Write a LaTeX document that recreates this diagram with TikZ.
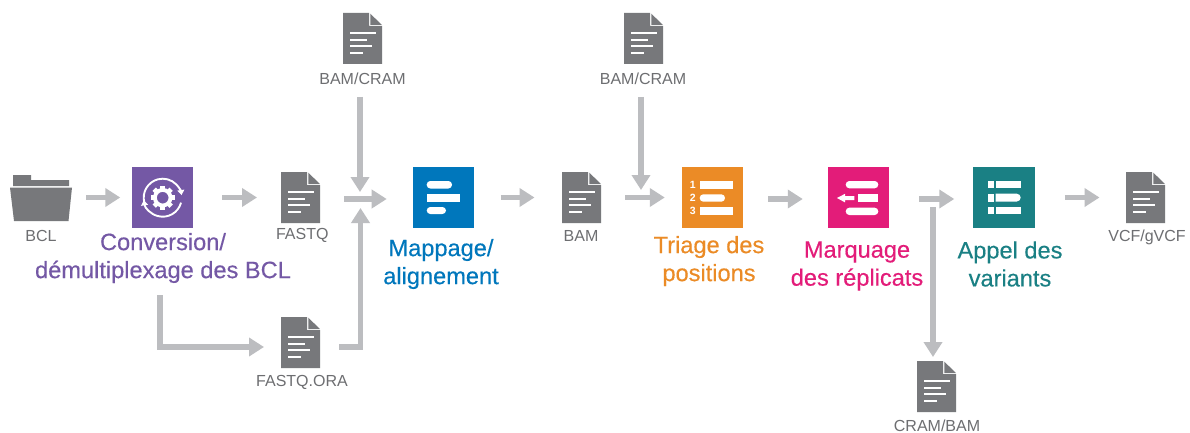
\documentclass[tikz,border=0pt]{standalone}
\usepackage{fontspec}
\setmainfont{Liberation Sans}
\newfontfamily\titlefont[FakeBold=0.35]{Liberation Sans}
\usetikzlibrary{arrows.meta}
\definecolor{docgray}{HTML}{77787B}
\definecolor{labelgray}{HTML}{6D6E71}
\definecolor{flowgray}{HTML}{BCBDC0}
\definecolor{cpurple}{HTML}{7458A5}
\definecolor{cblue}{HTML}{0077BC}
\definecolor{corange}{HTML}{EB8B26}
\definecolor{cpink}{HTML}{E31C79}
\definecolor{cteal}{HTML}{1A8084}
\tikzset{
  x=1pt,y=-1pt,
  flow/.style={draw=flowgray,line width=5.5pt,-{Triangle[length=15pt,width=18pt]}},
  square/.style={minimum size=61.5pt,inner sep=0pt,outer sep=0pt,draw=none},
  docbox/.style={minimum width=39pt,minimum height=51pt,inner sep=0pt,outer sep=0pt},
  filelabel/.style={anchor=base,inner sep=0pt,text=labelgray,font=\fontsize{16}{19}\selectfont},
  title/.style={align=center,inner sep=0pt,font=\titlefont\fontsize{23.6}{28}\selectfont},
  bar/.style={fill=white,draw=none},
  roundbar/.style={fill=white,draw=none,rounded corners=3.6pt},
  ringarrow/.style={draw=white,line width=1.9pt,-{Triangle[length=5pt,width=7pt]}}
}
\newcommand{\docicon}[6]{%
  \begin{scope}[shift={(#2,#3)}]
    \node[docbox] (#1) at (19.5,25.5) {};
    \fill[docgray] (0,0) -- (26,0) -- (26,13) -- (39,13) -- (39,51) -- (0,51) -- cycle;
    \fill[docgray] (27.3,0.6) -- (38.8,12) -- (27.3,12) -- cycle;
    \fill[white] (7,19.3) rectangle (32.5,21.1);
    \fill[white] (7,25.8) rectangle (24,27.6);
    \fill[white] (7,32.2) rectangle (28.5,34);
    \fill[white] (7,38.8) rectangle (20,40.6);
  \end{scope}
  \node[filelabel] (#1t) at (#4,#5) {#6};
}
\begin{document}
\begin{tikzpicture}
\useasboundingbox (0,0) rectangle (1190,433);
\fill[white] (0,0) rectangle (1190,433);

% folder
\node[minimum width=62pt,minimum height=46pt,inner sep=0pt,outer sep=0pt] (bcl) at (41,197.5) {};
\fill[docgray] (13,175) -- (31,175) -- (31,180) -- (69,180) -- (69,186) -- (13,186) -- cycle;
\fill[docgray] (10,187.5) -- (72,187.5) -- (68.5,221) -- (14,221) -- cycle;
\node[filelabel] (bclt) at (41,241.7) {BCL};

% files
\docicon{fastq}{281}{172}{302.3}{239.5}{FASTQ}
\docicon{ora}{281}{317}{302}{386}{FASTQ.ORA}
\docicon{bc}{343}{13}{362.5}{84.5}{BAM/CRAM}
\docicon{bam}{562}{172}{581}{241}{BAM}
\docicon{bd}{624}{13}{643}{84.5}{BAM/CRAM}
\docicon{cb}{917}{361}{937}{431.5}{CRAM/BAM}
\docicon{vcf}{1126}{172}{1147}{241}{VCF/gVCF}

% step squares
\node[square,fill=cpurple] (conv) at (162.5,197.5) {};
\node[square,fill=cblue] (map) at (443.5,197.5) {};
\node[square,fill=corange] (sort) at (712.5,197.5) {};
\node[square,fill=cpink] (dup) at (858.5,197.5) {};
\node[square,fill=cteal] (call) at (1004,197.5) {};

% titles
\node[title,text=cpurple] (convt) at (163,258) {Conversion/\\démultiplexage des BCL};
\node[title,text=cblue] (mapt) at (441,264) {Mappage/\\alignement};
\node[title,text=corange] (sortt) at (709,261) {Triage des\\positions};
\node[title,text=cpink] (dupt) at (857,266) {Marquage\\des réplicats};
\node[title,text=cteal] (callt) at (1010,264) {Appel des\\variants};

% purple icon
\begin{scope}[shift={(162.7,197.7)}]
  \draw[ringarrow] (-195:19) arc (-195:-8:19);
  \draw[ringarrow] (15:19) arc (15:172:19);
  \foreach \a in {0,45,...,315}
    \fill[white,rotate=\a] (-2.3,-12) rectangle (2.3,-8);
  \draw[white,line width=3.8pt] (0,0) circle (7.8);
\end{scope}

% blue icon
\fill[roundbar] (426.7,181) rectangle (452,188.5);
\fill[bar] (426.7,194) rectangle (460,201.5);
\fill[roundbar] (426.7,207) rectangle (446,214);

% orange icon
\fill[bar] (699.7,181.3) rectangle (732.7,188.7);
\fill[roundbar] (699.7,194.3) rectangle (725,201.7);
\fill[bar] (699.7,207.3) rectangle (732.7,214.7);
\node[inner sep=0pt,text=white,font=\bfseries\fontsize{10.5}{12}\selectfont] (n1) at (692.7,185) {1};
\node[inner sep=0pt,text=white,font=\bfseries\fontsize{10.5}{12}\selectfont] (n2) at (692.7,198) {2};
\node[inner sep=0pt,text=white,font=\bfseries\fontsize{10.5}{12}\selectfont] (n3) at (692.7,211) {3};

% pink icon
\fill[roundbar] (845.7,181) rectangle (878.3,188.3);
\fill[bar] (857.7,194.3) rectangle (878.3,201.7);
\fill[roundbar] (845.7,207.7) rectangle (878.3,215);
\fill[white] (837,198) -- (845,193.8) -- (845,196) -- (854.3,196) -- (854.3,200.2) -- (845,200.2) -- (845,202.4) -- cycle;

% teal icon
\fill[bar] (987.7,181) rectangle (994,188.3);
\fill[bar] (995.7,181) rectangle (1020.7,188.3);
\fill[bar] (987.7,193.7) rectangle (994,201.5);
\fill[white] (995.7,193.7) -- (1016.8,193.7) arc (-90:90:3.9) -- (995.7,201.5) -- cycle;
\fill[bar] (987.7,206.7) rectangle (994,214);
\fill[bar] (995.7,206.7) rectangle (1020.7,214);

% free ends
\coordinate (j1) at (360,192);
\coordinate (j1s) at (360,97);
\coordinate (j2) at (360.5,208);
\coordinate (j3) at (344,199);
\coordinate (j3e) at (386.7,199);
\coordinate (k1) at (641,190);
\coordinate (k1s) at (641,97);
\coordinate (k3) at (625,197.5);
\coordinate (c1) at (160,295);
\coordinate (d1) at (933,207);
\coordinate (d2) at (933,357);

% connectors
\draw[flow,shorten <=14pt,shorten >=11.5pt] (bcl) -- (conv);
\draw[flow,shorten <=29pt,shorten >=24pt] (conv) -- (fastq);
\draw[flow,shorten <=26.5pt,shorten >=27.5pt] (map) -- (bam);
\draw[flow,shorten <=25pt,shorten >=25pt] ([yshift=-1.5pt]sort.east) -- ([yshift=-1.5pt]dup.west);
\draw[flow,shorten <=30pt,shorten >=19pt] ([yshift=-1.5pt]dup.east) -- ([yshift=-1.5pt]call.west);
\draw[flow,shorten <=30pt,shorten >=26.5pt] (call) -- (vcf);
\draw[flow] (j1s) -- (j1);
\draw[flow] (j3) -- (j3e);
\draw[flow,shorten <=19pt] ([yshift=-4.5pt]ora.east) -| (j2);
\draw[flow,shorten >=17pt] (c1) |- ([yshift=-4.5pt]ora.west);
\draw[flow] (k1s) -- (k1);
\draw[flow,shorten >=17pt] (k3) -- (sort.west);
\draw[flow] (d1) -- (d2);
\end{tikzpicture}
\end{document}
